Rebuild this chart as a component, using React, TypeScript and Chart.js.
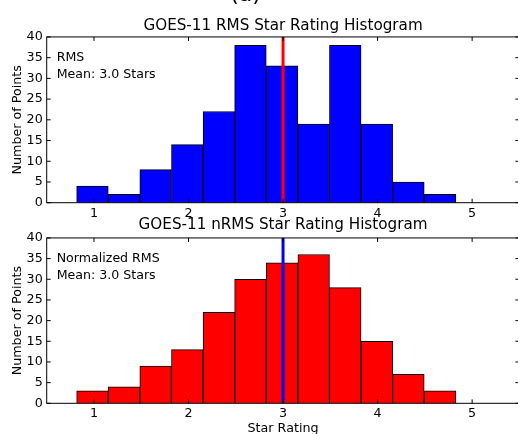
import React, { useEffect, useRef } from 'react';
import { Chart, registerables } from 'chart.js';

Chart.register(...registerables);
Chart.defaults.font.family = '"DejaVu Sans", sans-serif';

// Histogram bins (bin centres on the star-rating axis) and counts per bin
const binCenters = [0.984, 1.318, 1.652, 1.987, 2.321, 2.655, 2.989, 3.324, 3.658, 3.992, 4.326, 4.661];
const rmsCounts = [4, 2, 8, 14, 22, 38, 33, 19, 38, 19, 5, 2];
const nrmsCounts = [3, 4, 9, 13, 22, 30, 34, 36, 28, 15, 7, 3];
const rmsMean = 3.0;
const nrmsMean = 3.0;
const xTicks = [1, 2, 3, 4, 5];
const yTicks = [0, 5, 10, 15, 20, 25, 30, 35, 40];

const CANVAS_W = 522;
const CANVAS_H = 440;
const TEXT = '#000';

// Draws the four spines, inward tick marks and the in-plot notes
const framePlugin = {
  id: 'frame',
  afterDatasetsDraw(chart: any, _args: any, opts: any) {
    const { ctx, chartArea: a, scales } = chart;
    ctx.save();
    ctx.strokeStyle = '#000';
    ctx.lineWidth = 1;
    ctx.strokeRect(a.left, a.top, a.right - a.left, a.bottom - a.top);
    const len = 4;
    ctx.beginPath();
    for (const v of xTicks) {
      const px = scales.x.getPixelForValue(v);
      ctx.moveTo(px, a.bottom);
      ctx.lineTo(px, a.bottom - len);
      ctx.moveTo(px, a.top);
      ctx.lineTo(px, a.top + len);
    }
    for (const v of yTicks) {
      const py = scales.y.getPixelForValue(v);
      ctx.moveTo(a.left, py);
      ctx.lineTo(a.left + len, py);
      ctx.moveTo(a.right, py);
      ctx.lineTo(a.right - len, py);
    }
    ctx.stroke();

    ctx.fillStyle = TEXT;
    ctx.textAlign = 'left';
    ctx.textBaseline = 'alphabetic';
    ctx.font = '12.6px "DejaVu Sans"';
    (opts.lines || []).forEach((t: string, i: number) => {
      ctx.fillText(t, a.left + 10, a.top + 24.3 + i * 16.5);
    });
    if (opts.caption) {
      ctx.textAlign = 'center';
      ctx.font = '22px "DejaVu Sans"';
      ctx.fillText(opts.caption, 245.5, 0.5);
    }
    ctx.restore();
  },
};

type PanelProps = {
  title: string;
  counts: number[];
  barColor: string;
  mean: number;
  meanColor: string;
  notes: string[];
  caption?: string;
  xTitle?: string;
  padTop: number;
  padBottom: number;
  titlePadTop: number;
  titlePadBottom: number;
  xAxisHeight: number;
};

function HistPanel(p: PanelProps) {
  const ref = useRef<HTMLCanvasElement>(null);

  useEffect(() => {
    if (!ref.current) return;
    const tickFont = { family: '"DejaVu Sans"', size: 12.7 };
    const chart = new Chart(ref.current, {
      type: 'bar',
      data: {
        datasets: [
          {
            type: 'line',
            data: [
              { x: p.mean, y: 0 },
              { x: p.mean, y: 40 },
            ],
            borderColor: p.meanColor,
            borderWidth: 3,
            pointRadius: 0,
            order: 0,
          } as any,
          {
            type: 'bar',
            data: binCenters.map((x, i) => ({ x, y: p.counts[i] })),
            backgroundColor: p.barColor,
            borderColor: '#000',
            borderWidth: 1,
            borderSkipped: 'bottom',
            barPercentage: 1,
            categoryPercentage: 1,
            order: 1,
          } as any,
        ],
      },
      options: {
        responsive: false,
        animation: false,
        events: [],
        layout: { padding: { left: 0, right: 2.6, top: p.padTop, bottom: p.padBottom } },
        plugins: {
          legend: { display: false },
          tooltip: { enabled: false },
          title: {
            display: true,
            text: p.title,
            color: TEXT,
            fullSize: false,
            font: { family: '"DejaVu Sans"', size: 15.2, weight: 'normal' },
            padding: { top: p.titlePadTop, bottom: p.titlePadBottom },
          },
          frame: { lines: p.notes, caption: p.caption },
        } as any,
        scales: {
          x: {
            type: 'linear',
            min: 0.5,
            max: 5.5,
            offset: false,
            grid: { display: false, drawTicks: false },
            border: { display: false },
            ticks: { font: tickFont, color: TEXT, padding: 3, maxRotation: 0, autoSkip: false },
            afterBuildTicks: (s: any) => {
              s.ticks = xTicks.map((v) => ({ value: v }));
            },
            afterFit: (s: any) => {
              s.height = p.xAxisHeight;
            },
            title: {
              display: !!p.xTitle,
              text: p.xTitle || '',
              color: TEXT,
              font: tickFont,
              padding: { top: 0, bottom: 4.1 },
            },
          },
          y: {
            type: 'linear',
            min: 0,
            max: 40,
            grid: { display: false, drawTicks: false },
            border: { display: false },
            ticks: { font: tickFont, color: TEXT, padding: 4 },
            afterBuildTicks: (s: any) => {
              s.ticks = yTicks.map((v) => ({ value: v }));
            },
            afterFit: (s: any) => {
              s.width = 46.7;
            },
            title: {
              display: true,
              text: 'Number of Points',
              color: TEXT,
              font: tickFont,
              padding: { top: 10, bottom: 0 },
            },
          },
        },
      } as any,
      plugins: [framePlugin],
    });
    return () => chart.destroy();
  }, []);

  return (
    <canvas
      ref={ref}
      width={CANVAS_W}
      height={CANVAS_H}
      style={{ position: 'absolute', left: 0, top: 0, display: 'block' }}
    />
  );
}

export default function App() {
  return (
    <div
      style={{
        position: 'absolute',
        left: 0,
        top: 0,
        width: 518,
        height: 434,
        overflow: 'hidden',
        background: '#fff',
      }}
    >
      <HistPanel
        title="GOES-11 RMS Star Rating Histogram"
        counts={rmsCounts}
        barColor="#0000ff"
        mean={rmsMean}
        meanColor="#ff0000"
        notes={['RMS', `Mean: ${rmsMean.toFixed(1)} Stars`]}
        caption="(a)"
        padTop={0}
        padBottom={217.3}
        titlePadTop={17}
        titlePadBottom={1.7}
        xAxisHeight={20}
      />
      <HistPanel
        title="GOES-11 nRMS Star Rating Histogram"
        counts={nrmsCounts}
        barColor="#ff0000"
        mean={nrmsMean}
        meanColor="#0000ff"
        notes={['Normalized RMS', `Mean: ${nrmsMean.toFixed(1)} Stars`]}
        xTitle="Star Rating"
        padTop={200}
        padBottom={0}
        titlePadTop={16}
        titlePadBottom={3.7}
        xAxisHeight={36.7}
      />
    </div>
  );
}
